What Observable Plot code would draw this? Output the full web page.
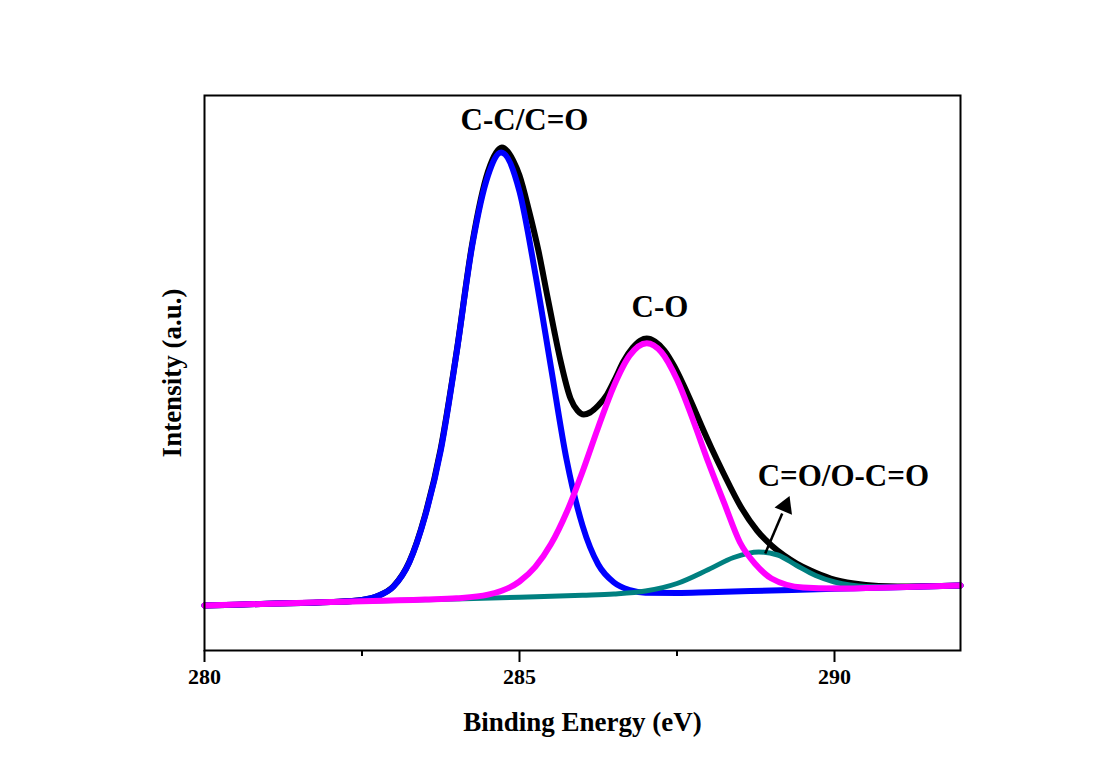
<!DOCTYPE html>
<html>
<head>
<meta charset="utf-8">
<script src="https://cdn.jsdelivr.net/npm/d3@7"></script>
<script src="https://cdn.jsdelivr.net/npm/@observablehq/plot@0.6"></script>
<style>
  html, body { margin: 0; padding: 0; background: #ffffff; }
  #chart { width: 1100px; height: 771px; }
</style>
</head>
<body>
<div id="chart"></div>
<script>
// ---- Data (binding energy in eV, intensity in arbitrary units) ----
const envelopeEnergy = [280, 281, 282, 282.5, 282.75, 283, 283.25, 283.5, 283.75, 284, 284.25, 284.5, 284.72, 284.9, 285, 285.15, 285.3, 285.44, 285.55, 285.65, 285.81, 285.92, 286.02, 286.12, 286.25, 286.39, 286.52, 286.65, 286.8, 286.92, 287.02, 287.15, 287.3, 287.45, 287.6, 287.75, 287.9, 288.05, 288.24, 288.51, 288.77, 289, 289.2, 289.4, 289.62, 289.94, 290.31, 290.7, 291, 292];
const envelopeIntensity = [45, 46.7, 48.4, 50.5, 54.5, 64.2, 88.5, 135, 202, 298, 407, 479, 503, 490, 475, 440, 400, 355, 320, 290, 252, 240, 236, 238, 245, 256, 272, 289, 303, 310, 312, 309, 300, 285, 266, 245, 223, 202, 177, 144, 120, 105, 95, 87, 80, 72, 67, 64.5, 64, 65];

const ccEnergy = [280, 281, 282, 282.5, 282.75, 283, 283.25, 283.5, 283.75, 284, 284.25, 284.5, 284.71, 285, 285.25, 285.5, 285.75, 286, 286.25, 286.5, 286.75, 287, 287.5, 288, 289, 290, 291, 292];
const ccIntensity = [45, 46.7, 48.4, 50.5, 54.5, 64, 88, 134, 200, 297, 405, 475, 498, 459, 377, 283, 190, 125, 86, 68, 60.5, 57.8, 57.6, 58.3, 60, 61.7, 63.3, 65];

const coEnergy = [280, 282, 283.5, 284, 284.5, 285, 285.25, 285.5, 285.75, 286, 286.25, 286.5, 286.75, 287.02, 287.25, 287.5, 287.75, 288, 288.25, 288.5, 288.75, 289, 289.5, 290, 291, 292];
const coIntensity = [45, 48.4, 50.9, 52.2, 55.8, 69, 83.6, 106.4, 138.5, 178.8, 223.3, 264.8, 295.1, 307.3, 298.5, 271, 231.3, 187.7, 147.3, 108, 86, 72, 63, 62, 63.3, 65];

const ocoEnergy = [280, 283, 285, 286, 286.5, 287, 287.5, 288, 288.4, 288.8, 289.1, 289.4, 289.7, 290, 290.5, 291, 292];
const ocoIntensity = [45, 50, 53.3, 55.2, 56.5, 59.5, 67, 81, 93, 98.5, 95.5, 85, 75, 68.5, 64, 63.6, 65];

const majorTicks = [280, 285, 290];
const minorTicks = [282.5, 287.5];

const peakLabels = ["C-C/C=O", "C-O", "C=O/O-C=O"];
const xTitle = "Binding Energy (eV)";
const yTitle = "Intensity (a.u.)";

// ---- Build tables ----
const toRows = (xs, ys) => xs.map((x, i) => ({energy: x, intensity: ys[i]}));
const envelope = toRows(envelopeEnergy, envelopeIntensity);
const cc = toRows(ccEnergy, ccIntensity);
const co = toRows(coEnergy, coIntensity);
const oco = toRows(ocoEnergy, ocoIntensity);

const font = "'Liberation Serif', 'Times New Roman', serif";

const chart = Plot.plot({
  width: 1100,
  height: 771,
  marginLeft: 204,
  marginRight: 140,
  marginTop: 95,
  marginBottom: 121,
  style: {fontFamily: font, background: "#ffffff", color: "#000"},
  x: {domain: [280, 292], axis: null},
  y: {domain: [0, 555], axis: null},
  marks: [
    Plot.line(envelope, {x: "energy", y: "intensity", stroke: "#000000", strokeWidth: 6, curve: "monotone-x"}),
    Plot.line(cc, {x: "energy", y: "intensity", stroke: "#0000ff", strokeWidth: 6, curve: "monotone-x"}),
    Plot.line(oco, {x: "energy", y: "intensity", stroke: "#008080", strokeWidth: 5, curve: "monotone-x"}),
    Plot.line(co, {x: "energy", y: "intensity", stroke: "#ff00ff", strokeWidth: 6, curve: "monotone-x"}),
    Plot.frame({stroke: "#000", strokeWidth: 2}),
    Plot.axisX({ticks: majorTicks, tickSize: 12, tickPadding: 6, strokeWidth: 2, fontSize: 22, fontWeight: "bold", tickFormat: d => String(d), label: null}),
    Plot.axisX({ticks: minorTicks, tickSize: 6, strokeWidth: 2, tickFormat: () => "", label: null}),
    // peak labels
    Plot.text([peakLabels[0]], {x: 285.08, y: 521, text: d => d, fontSize: 31, fontWeight: "bold", lineAnchor: "bottom"}),
    Plot.text([peakLabels[1]], {x: 287.23, y: 333.3, text: d => d, fontSize: 31, fontWeight: "bold", lineAnchor: "bottom"}),
    Plot.text([peakLabels[2]], {x: 290.14, y: 165, text: d => d, fontSize: 31, fontWeight: "bold", lineAnchor: "bottom"}),
    // arrow
    Plot.link([0], {x1: 288.9, y1: 97, x2: 289.17, y2: 137, stroke: "#000", strokeWidth: 2.5}),
    Plot.dot([0], {x: 289.22, y: 144.5, symbol: "triangle", r: 7, fill: "#000", stroke: "none", rotate: 22.6}),
    // axis titles
    Plot.text([xTitle], {frameAnchor: "bottom", dy: 72, text: d => d, fontSize: 27, fontWeight: "bold", lineAnchor: "middle", textAnchor: "middle"}),
    Plot.text([yTitle], {frameAnchor: "left", dx: -32, rotate: -90, text: d => d, fontSize: 27, fontWeight: "bold", lineAnchor: "middle", textAnchor: "middle"})
  ]
});

document.getElementById("chart").appendChild(chart);
</script>
</body>
</html>
